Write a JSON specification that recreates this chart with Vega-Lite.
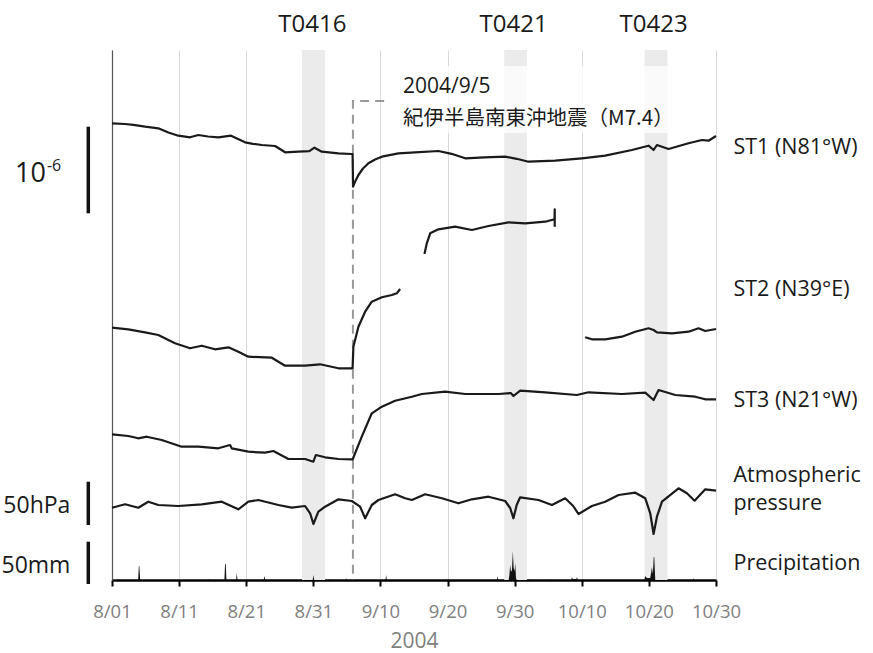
{
  "$schema": "https://vega.github.io/schema/vega-lite/v6.json",
  "width": 604,
  "height": 530,
  "autosize": {"type": "none"},
  "padding": {"left": 112, "top": 50, "right": 157, "bottom": 73},
  "background": "white",
  "config": {"font": "Open Sans", "view": {"stroke": null}},
  "datasets": {
    "typhoons": [
      {"name": "T0416", "start": 28.32, "end": 31.75, "peak": 29.85},
      {"name": "T0421", "start": 58.44, "end": 61.82, "peak": 59.85},
      {"name": "T0423", "start": 79.35, "end": 82.78, "peak": 80.7}
    ],
    "quake": [
      {"day": 40.55, "v": 479},
      {"day": 35.9, "v": 479},
      {"day": 35.9, "v": 0}
    ],
    "traces": [
      {"s": "ST1", "day": 0, "v": 456.7}, {"s": "ST1", "day": 1.94, "v": 456}, {"s": "ST1", "day": 3.2, "v": 455.2}, {"s": "ST1", "day": 4.92, "v": 453.3}, {"s": "ST1", "day": 6.9, "v": 451.7}, {"s": "ST1", "day": 8.4, "v": 447.5}, {"s": "ST1", "day": 9.88, "v": 444.3}, {"s": "ST1", "day": 11.63, "v": 442.7}, {"s": "ST1", "day": 12.87, "v": 445}, {"s": "ST1", "day": 14.3, "v": 443.5}, {"s": "ST1", "day": 15.85, "v": 442.7}, {"s": "ST1", "day": 17.74, "v": 444.3}, {"s": "ST1", "day": 19.83, "v": 437.7}, {"s": "ST1", "day": 21.0, "v": 436.2}, {"s": "ST1", "day": 22.32, "v": 435}, {"s": "ST1", "day": 24.3, "v": 434}, {"s": "ST1", "day": 25.79, "v": 427.7}, {"s": "ST1", "day": 27.77, "v": 428.3}, {"s": "ST1", "day": 29.4, "v": 428.8}, {"s": "ST1", "day": 30.17, "v": 432.3}, {"s": "ST1", "day": 31.26, "v": 428.3}, {"s": "ST1", "day": 33.74, "v": 426.7}, {"s": "ST1", "day": 35.63, "v": 426}, {"s": "ST1", "day": 35.85, "v": 426}, {"s": "ST1", "day": 35.92, "v": 393.3}, {"s": "ST1", "day": 36.2, "v": 398}, {"s": "ST1", "day": 36.72, "v": 405}, {"s": "ST1", "day": 37.4, "v": 411.5}, {"s": "ST1", "day": 38.21, "v": 416.7}, {"s": "ST1", "day": 39.2, "v": 420.5}, {"s": "ST1", "day": 40.21, "v": 423.3}, {"s": "ST1", "day": 42.68, "v": 426.7}, {"s": "ST1", "day": 45.17, "v": 427.7}, {"s": "ST1", "day": 48.64, "v": 429}, {"s": "ST1", "day": 50.6, "v": 426.2}, {"s": "ST1", "day": 52.62, "v": 421.7}, {"s": "ST1", "day": 55.5, "v": 422.6}, {"s": "ST1", "day": 58.59, "v": 423.3}, {"s": "ST1", "day": 60.3, "v": 421.2}, {"s": "ST1", "day": 62.06, "v": 418.3}, {"s": "ST1", "day": 66.04, "v": 419.3}, {"s": "ST1", "day": 70.02, "v": 421.7}, {"s": "ST1", "day": 73.49, "v": 424.3}, {"s": "ST1", "day": 77.47, "v": 430}, {"s": "ST1", "day": 79.95, "v": 434.3}, {"s": "ST1", "day": 80.7, "v": 430}, {"s": "ST1", "day": 81.2, "v": 435}, {"s": "ST1", "day": 82.93, "v": 431}, {"s": "ST1", "day": 85.91, "v": 436.7}, {"s": "ST1", "day": 87.91, "v": 440}, {"s": "ST1", "day": 88.89, "v": 439.3}, {"s": "ST1", "day": 90, "v": 444},
      {"s": "ST2a", "day": 0, "v": 252.3}, {"s": "ST2a", "day": 2.43, "v": 250.7}, {"s": "ST2a", "day": 4.92, "v": 247.7}, {"s": "ST2a", "day": 6.9, "v": 245}, {"s": "ST2a", "day": 9.39, "v": 236.7}, {"s": "ST2a", "day": 11.63, "v": 231.7}, {"s": "ST2a", "day": 13.37, "v": 234.3}, {"s": "ST2a", "day": 15.35, "v": 230.7}, {"s": "ST2a", "day": 17.34, "v": 232.7}, {"s": "ST2a", "day": 18.83, "v": 228.3}, {"s": "ST2a", "day": 20.32, "v": 223.3}, {"s": "ST2a", "day": 23.81, "v": 222.3}, {"s": "ST2a", "day": 25.79, "v": 214.3}, {"s": "ST2a", "day": 28.77, "v": 214.3}, {"s": "ST2a", "day": 31.01, "v": 215.7}, {"s": "ST2a", "day": 33.74, "v": 211.7}, {"s": "ST2a", "day": 35.63, "v": 211.7}, {"s": "ST2a", "day": 35.85, "v": 211.5}, {"s": "ST2a", "day": 35.97, "v": 233.3}, {"s": "ST2a", "day": 36.72, "v": 253.3}, {"s": "ST2a", "day": 37.72, "v": 268.3}, {"s": "ST2a", "day": 38.71, "v": 278.3}, {"s": "ST2a", "day": 40.21, "v": 282.7}, {"s": "ST2a", "day": 41.7, "v": 285}, {"s": "ST2a", "day": 42.44, "v": 286.7}, {"s": "ST2a", "day": 42.93, "v": 291},
      {"s": "ST2b", "day": 46.56, "v": 326}, {"s": "ST2b", "day": 46.91, "v": 336.7}, {"s": "ST2b", "day": 47.41, "v": 346.7}, {"s": "ST2b", "day": 48.64, "v": 350.7}, {"s": "ST2b", "day": 51.13, "v": 353.3}, {"s": "ST2b", "day": 53.62, "v": 350}, {"s": "ST2b", "day": 56.1, "v": 354}, {"s": "ST2b", "day": 59.08, "v": 357.7}, {"s": "ST2b", "day": 61.57, "v": 356.7}, {"s": "ST2b", "day": 64.55, "v": 358.3}, {"s": "ST2b", "day": 65.94, "v": 360.7}, {"s": "ST2b", "day": 65.97, "v": 370.7}, {"s": "ST2b", "day": 65.97, "v": 353.3},
      {"s": "ST2c", "day": 70.51, "v": 242.7}, {"s": "ST2c", "day": 71.51, "v": 240.7}, {"s": "ST2c", "day": 73.49, "v": 240.7}, {"s": "ST2c", "day": 75.98, "v": 243.3}, {"s": "ST2c", "day": 77.97, "v": 248.3}, {"s": "ST2c", "day": 79.95, "v": 251.7}, {"s": "ST2c", "day": 80.7, "v": 250}, {"s": "ST2c", "day": 81.2, "v": 247.7}, {"s": "ST2c", "day": 83.44, "v": 246.7}, {"s": "ST2c", "day": 85.91, "v": 248.3}, {"s": "ST2c", "day": 87.4, "v": 251.7}, {"s": "ST2c", "day": 88.4, "v": 249}, {"s": "ST2c", "day": 90, "v": 251},
      {"s": "ST3", "day": 0, "v": 145.7}, {"s": "ST3", "day": 2.43, "v": 144}, {"s": "ST3", "day": 3.92, "v": 141.7}, {"s": "ST3", "day": 5.17, "v": 143.3}, {"s": "ST3", "day": 7.41, "v": 140}, {"s": "ST3", "day": 10.39, "v": 133.3}, {"s": "ST3", "day": 12.87, "v": 133.3}, {"s": "ST3", "day": 15.85, "v": 131.7}, {"s": "ST3", "day": 17.59, "v": 135}, {"s": "ST3", "day": 17.84, "v": 131.7}, {"s": "ST3", "day": 20.32, "v": 128.3}, {"s": "ST3", "day": 22.81, "v": 127.3}, {"s": "ST3", "day": 24.05, "v": 129}, {"s": "ST3", "day": 26.28, "v": 121}, {"s": "ST3", "day": 28.77, "v": 121}, {"s": "ST3", "day": 30.01, "v": 118.3}, {"s": "ST3", "day": 30.37, "v": 125}, {"s": "ST3", "day": 31.75, "v": 122.7}, {"s": "ST3", "day": 33.74, "v": 121}, {"s": "ST3", "day": 35.73, "v": 120.7}, {"s": "ST3", "day": 35.85, "v": 120.5}, {"s": "ST3", "day": 37.22, "v": 143.3}, {"s": "ST3", "day": 38.71, "v": 166.7}, {"s": "ST3", "day": 40.21, "v": 173.3}, {"s": "ST3", "day": 42.19, "v": 179.3}, {"s": "ST3", "day": 44.68, "v": 183.3}, {"s": "ST3", "day": 46.17, "v": 186}, {"s": "ST3", "day": 49.64, "v": 188.3}, {"s": "ST3", "day": 52.62, "v": 186}, {"s": "ST3", "day": 57.59, "v": 186}, {"s": "ST3", "day": 59.41, "v": 187}, {"s": "ST3", "day": 59.82, "v": 184}, {"s": "ST3", "day": 60.82, "v": 189.3}, {"s": "ST3", "day": 64.55, "v": 187.7}, {"s": "ST3", "day": 69.28, "v": 185}, {"s": "ST3", "day": 71.01, "v": 187.7}, {"s": "ST3", "day": 75.98, "v": 186}, {"s": "ST3", "day": 79.46, "v": 187.3}, {"s": "ST3", "day": 80.7, "v": 180}, {"s": "ST3", "day": 81.44, "v": 190}, {"s": "ST3", "day": 83.93, "v": 185}, {"s": "ST3", "day": 86.91, "v": 183.3}, {"s": "ST3", "day": 88.4, "v": 180.7}, {"s": "ST3", "day": 90, "v": 180.7},
      {"s": "P", "day": 0, "v": 72.3}, {"s": "P", "day": 1.94, "v": 75.7}, {"s": "P", "day": 3.92, "v": 72.3}, {"s": "P", "day": 5.41, "v": 78.3}, {"s": "P", "day": 6.9, "v": 75}, {"s": "P", "day": 9.88, "v": 74}, {"s": "P", "day": 13.37, "v": 75.7}, {"s": "P", "day": 16.35, "v": 78.3}, {"s": "P", "day": 18.83, "v": 70.7}, {"s": "P", "day": 20.32, "v": 78.3}, {"s": "P", "day": 21.81, "v": 80}, {"s": "P", "day": 24.79, "v": 75}, {"s": "P", "day": 26.79, "v": 72.3}, {"s": "P", "day": 28.77, "v": 74}, {"s": "P", "day": 29.52, "v": 66.7}, {"s": "P", "day": 30.01, "v": 56}, {"s": "P", "day": 30.75, "v": 68.3}, {"s": "P", "day": 31.75, "v": 73.3}, {"s": "P", "day": 33.74, "v": 80.7}, {"s": "P", "day": 35.73, "v": 79}, {"s": "P", "day": 36.97, "v": 73.3}, {"s": "P", "day": 37.72, "v": 61.7}, {"s": "P", "day": 38.71, "v": 75}, {"s": "P", "day": 39.7, "v": 80}, {"s": "P", "day": 42.19, "v": 85.7}, {"s": "P", "day": 43.68, "v": 81.7}, {"s": "P", "day": 44.68, "v": 80}, {"s": "P", "day": 46.66, "v": 85.7}, {"s": "P", "day": 49.15, "v": 81.7}, {"s": "P", "day": 51.62, "v": 76.7}, {"s": "P", "day": 53.62, "v": 80.7}, {"s": "P", "day": 56.1, "v": 83.3}, {"s": "P", "day": 58.59, "v": 79}, {"s": "P", "day": 59.33, "v": 72}, {"s": "P", "day": 59.82, "v": 61.7}, {"s": "P", "day": 60.3, "v": 75}, {"s": "P", "day": 60.82, "v": 82.7}, {"s": "P", "day": 63.55, "v": 80}, {"s": "P", "day": 65.55, "v": 75}, {"s": "P", "day": 67.53, "v": 81.7}, {"s": "P", "day": 68.72, "v": 74}, {"s": "P", "day": 69.51, "v": 66}, {"s": "P", "day": 71.51, "v": 74}, {"s": "P", "day": 73.49, "v": 78.3}, {"s": "P", "day": 75.48, "v": 85}, {"s": "P", "day": 77.97, "v": 87.3}, {"s": "P", "day": 79.46, "v": 81.7}, {"s": "P", "day": 80.2, "v": 66.7}, {"s": "P", "day": 80.7, "v": 46}, {"s": "P", "day": 81.2, "v": 63.3}, {"s": "P", "day": 81.95, "v": 78.3}, {"s": "P", "day": 84.42, "v": 91.7}, {"s": "P", "day": 85.67, "v": 86.7}, {"s": "P", "day": 86.81, "v": 79.3}, {"s": "P", "day": 88.4, "v": 90.7}, {"s": "P", "day": 90, "v": 89.3}
    ],
    "rain": [
      {"day": 0, "mm": 0}, {"day": 3.9, "mm": 0}, {"day": 4.0, "mm": 14}, {"day": 4.07, "mm": 14}, {"day": 4.2, "mm": 0},
      {"day": 14.35, "mm": 0}, {"day": 14.46, "mm": 1}, {"day": 14.55, "mm": 0},
      {"day": 16.75, "mm": 0}, {"day": 16.85, "mm": 16}, {"day": 16.95, "mm": 16}, {"day": 17.05, "mm": 0},
      {"day": 18.5, "mm": 0}, {"day": 18.59, "mm": 7}, {"day": 18.7, "mm": 0},
      {"day": 22.6, "mm": 0}, {"day": 22.7, "mm": 4}, {"day": 22.85, "mm": 0},
      {"day": 29.9, "mm": 0}, {"day": 30.01, "mm": 5}, {"day": 30.12, "mm": 0},
      {"day": 32.45, "mm": 0}, {"day": 32.5, "mm": 1}, {"day": 32.6, "mm": 0},
      {"day": 34.8, "mm": 0}, {"day": 34.88, "mm": 2}, {"day": 34.95, "mm": 0},
      {"day": 40.75, "mm": 0}, {"day": 40.85, "mm": 5}, {"day": 40.95, "mm": 0},
      {"day": 57.35, "mm": 0}, {"day": 57.44, "mm": 4}, {"day": 57.55, "mm": 0},
      {"day": 59.1, "mm": 0}, {"day": 59.2, "mm": 4}, {"day": 59.33, "mm": 15}, {"day": 59.45, "mm": 8}, {"day": 59.6, "mm": 10}, {"day": 59.73, "mm": 29}, {"day": 59.85, "mm": 12}, {"day": 60.0, "mm": 9}, {"day": 60.08, "mm": 17}, {"day": 60.2, "mm": 2}, {"day": 60.3, "mm": 0},
      {"day": 62.25, "mm": 0}, {"day": 62.31, "mm": 1}, {"day": 62.4, "mm": 0},
      {"day": 65.25, "mm": 0}, {"day": 65.3, "mm": 1}, {"day": 65.4, "mm": 0},
      {"day": 68.45, "mm": 0}, {"day": 68.53, "mm": 3}, {"day": 68.65, "mm": 1}, {"day": 69.2, "mm": 1}, {"day": 69.28, "mm": 3}, {"day": 69.4, "mm": 0},
      {"day": 79.3, "mm": 0}, {"day": 79.46, "mm": 4}, {"day": 79.7, "mm": 2}, {"day": 80.2, "mm": 2}, {"day": 80.35, "mm": 8}, {"day": 80.45, "mm": 13}, {"day": 80.6, "mm": 6}, {"day": 80.72, "mm": 23}, {"day": 80.8, "mm": 23}, {"day": 80.95, "mm": 0},
      {"day": 86.6, "mm": 0}, {"day": 86.66, "mm": 2}, {"day": 86.75, "mm": 0}, {"day": 90, "mm": 0}
    ],
    "rightlabels": [
      {"text": "ST1 (N81°W)", "v": 432},
      {"text": "ST2 (N39°E)", "v": 290},
      {"text": "ST3 (N21°W)", "v": 179},
      {"text": "Atmospheric", "v": 104},
      {"text": "pressure", "v": 76},
      {"text": "Precipitation", "v": 16}
    ],
    "scalelabels": [
      {"text": "50hPa", "v": 66.7},
      {"text": "50mm", "v": 6.7}
    ],
    "scalebars": [
      {"what": "strain 1e-6", "v1": 453.3, "v2": 366.7},
      {"what": "pressure 50hPa", "v1": 98.3, "v2": 55},
      {"what": "precipitation 50mm", "v1": 38.3, "v2": -4}
    ]
  },
  "layer": [
    {
      "data": {"name": "typhoons"},
      "mark": {"type": "rect", "color": "#ebebeb"},
      "encoding": {
        "x": {
          "field": "start", "type": "quantitative",
          "scale": {"domain": [0, 90], "nice": false, "zero": false},
          "axis": {
            "values": [0, 10, 20, 30, 40, 50, 60, 70, 80, 90],
            "labelExpr": "timeFormat(datetime(2004, 7, 1 + datum.value), '%-m/%d')",
            "labelOverlap": false,
            "labelFlush": false,
            "title": "2004",
            "grid": true, "gridColor": "#d9d9d9", "gridWidth": 1,
            "domainColor": "#000000", "domainWidth": 2.5,
            "tickColor": "#000000", "tickWidth": 2, "tickSize": 6,
            "labelColor": "#808080", "labelFontSize": 18.5, "labelPadding": 16, "labelFont": "Open Sans",
            "titleColor": "#808080", "titleFontSize": 21, "titleFontWeight": "normal", "titlePadding": 10, "titleFont": "Open Sans"
          }
        },
        "x2": {"field": "end"},
        "y": {
          "datum": 0, "type": "quantitative",
          "scale": {"domain": [0, 530], "nice": false, "zero": false},
          "axis": {"title": null, "labels": false, "ticks": false, "grid": false, "domain": true, "domainColor": "#555555", "domainWidth": 1.2}
        },
        "y2": {"datum": 530}
      }
    },
    {
      "data": {"name": "typhoons"},
      "mark": {"type": "text", "fontSize": 24, "color": "#1a1a1a", "align": "center", "baseline": "alphabetic"},
      "encoding": {
        "x": {"field": "peak", "type": "quantitative", "scale": {"domain": [0, 90], "nice": false, "zero": false}},
        "y": {"datum": 548.3, "type": "quantitative", "scale": {"domain": [0, 530], "nice": false, "zero": false}},
        "text": {"field": "name"}
      }
    },
    {
      "data": {"values": [{}]},
      "mark": {"type": "rect", "color": "white", "opacity": 0.75},
      "encoding": {
        "x": {"datum": 42.2, "type": "quantitative", "scale": {"domain": [0, 90], "nice": false, "zero": false}},
        "x2": {"datum": 86.2},
        "y": {"datum": 447, "type": "quantitative", "scale": {"domain": [0, 530], "nice": false, "zero": false}},
        "y2": {"datum": 514}
      }
    },
    {
      "data": {"name": "quake"},
      "mark": {"type": "line", "color": "#999999", "strokeWidth": 2, "strokeDash": [9, 6]},
      "encoding": {
        "x": {"field": "day", "type": "quantitative", "scale": {"domain": [0, 90], "nice": false, "zero": false}},
        "y": {"field": "v", "type": "quantitative", "scale": {"domain": [0, 530], "nice": false, "zero": false}},
        "order": {"value": null}
      }
    },
    {
      "data": {"name": "traces"},
      "mark": {"type": "line", "color": "#1a1a1a", "strokeWidth": 2.2, "strokeJoin": "round"},
      "encoding": {
        "x": {"field": "day", "type": "quantitative", "scale": {"domain": [0, 90], "nice": false, "zero": false}},
        "y": {"field": "v", "type": "quantitative", "scale": {"domain": [0, 530], "nice": false, "zero": false}},
        "detail": {"field": "s"},
        "order": {"value": null}
      }
    },
    {
      "data": {"name": "rain"},
      "mark": {"type": "area", "color": "#111111"},
      "encoding": {
        "x": {"field": "day", "type": "quantitative", "scale": {"domain": [0, 90], "nice": false, "zero": false}},
        "y": {"field": "mm", "type": "quantitative", "scale": {"domain": [0, 530], "nice": false, "zero": false}}
      }
    },
    {
      "data": {"name": "rightlabels"},
      "mark": {"type": "text", "fontSize": 21.5, "color": "#1a1a1a", "align": "left", "baseline": "middle"},
      "encoding": {
        "x": {"datum": 92.6, "type": "quantitative", "scale": {"domain": [0, 90], "nice": false, "zero": false}},
        "y": {"field": "v", "type": "quantitative", "scale": {"domain": [0, 530], "nice": false, "zero": false}},
        "text": {"field": "text"}
      }
    },
    {
      "data": {"values": [{"text": "2004/9/5"}]},
      "mark": {"type": "text", "fontSize": 21, "color": "#1a1a1a", "align": "left", "baseline": "middle"},
      "encoding": {
        "x": {"datum": 43.37, "type": "quantitative", "scale": {"domain": [0, 90], "nice": false, "zero": false}},
        "y": {"datum": 493, "type": "quantitative", "scale": {"domain": [0, 530], "nice": false, "zero": false}},
        "text": {"field": "text"}
      }
    },
    {
      "data": {"values": [{"text": "紀伊半島南東沖地震（M7.4）"}]},
      "mark": {"type": "text", "fontSize": 20.5, "font": "Noto Sans CJK JP", "color": "#1a1a1a", "align": "left", "baseline": "middle"},
      "encoding": {
        "x": {"datum": 43.37, "type": "quantitative", "scale": {"domain": [0, 90], "nice": false, "zero": false}},
        "y": {"datum": 461, "type": "quantitative", "scale": {"domain": [0, 530], "nice": false, "zero": false}},
        "text": {"field": "text"}
      }
    },
    {
      "data": {"values": [{"text": "10"}]},
      "mark": {"type": "text", "fontSize": 27, "color": "#1a1a1a", "align": "left", "baseline": "alphabetic"},
      "encoding": {
        "x": {"datum": -14.46, "type": "quantitative", "scale": {"domain": [0, 90], "nice": false, "zero": false}},
        "y": {"datum": 398.3, "type": "quantitative", "scale": {"domain": [0, 530], "nice": false, "zero": false}},
        "text": {"field": "text"}
      }
    },
    {
      "data": {"values": [{"text": "-6"}]},
      "mark": {"type": "text", "fontSize": 16, "color": "#1a1a1a", "align": "left", "baseline": "alphabetic"},
      "encoding": {
        "x": {"datum": -9.69, "type": "quantitative", "scale": {"domain": [0, 90], "nice": false, "zero": false}},
        "y": {"datum": 409, "type": "quantitative", "scale": {"domain": [0, 530], "nice": false, "zero": false}},
        "text": {"field": "text"}
      }
    },
    {
      "data": {"name": "scalelabels"},
      "mark": {"type": "text", "fontSize": 23, "color": "#1a1a1a", "align": "right", "baseline": "alphabetic"},
      "encoding": {
        "x": {"datum": -6.2, "type": "quantitative", "scale": {"domain": [0, 90], "nice": false, "zero": false}},
        "y": {"field": "v", "type": "quantitative", "scale": {"domain": [0, 530], "nice": false, "zero": false}},
        "text": {"field": "text"}
      }
    },
    {
      "data": {"name": "scalebars"},
      "mark": {"type": "rule", "color": "#111111", "strokeWidth": 3.5},
      "encoding": {
        "x": {"datum": -3.53, "type": "quantitative", "scale": {"domain": [0, 90], "nice": false, "zero": false}},
        "y": {"field": "v1", "type": "quantitative", "scale": {"domain": [0, 530], "nice": false, "zero": false}},
        "y2": {"field": "v2"}
      }
    }
  ]
}
